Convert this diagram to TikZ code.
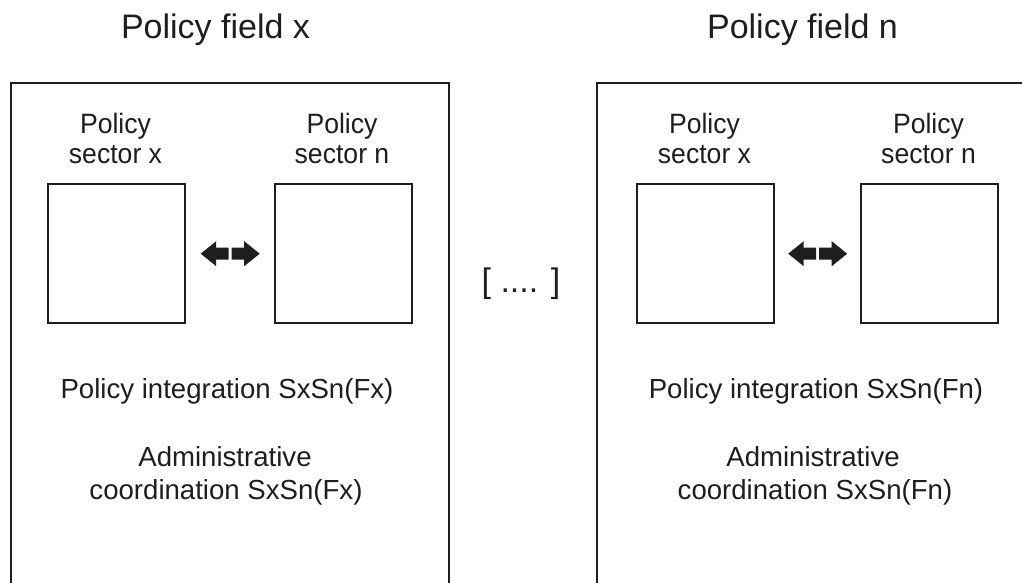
\documentclass[tikz,border=0pt]{standalone}
\usepackage{fontspec}
\usetikzlibrary{calc}
\setmainfont{Liberation Sans}
\newfontfamily\condf[FakeStretch=0.95]{Liberation Sans}
\definecolor{ink}{HTML}{1E1E1E}
\tikzset{
  frame/.style={draw=ink, line width=2pt},
  sectorbox/.style={draw=ink, line width=2.4pt, minimum width=137pt, minimum height=139pt, inner sep=0pt, anchor=north west},
  titletext/.style={text=ink, anchor=base, inner sep=0pt, font=\fontsize{34}{40}\selectfont},
  sectortext/.style={text=ink, anchor=base, inner sep=0pt, font=\condf\fontsize{28}{30}\selectfont},
  lowertext/.style={text=ink, anchor=base, inner sep=0pt, font=\fontsize{27.6}{32}\selectfont},
  arrowfill/.style={fill=ink, draw=none},
  pics/dblarrow/.style={code={
    \fill[arrowfill] (-29.5,0) -- (-14,-12.5) -- (-14,-6) -- (-1.5,-6) -- (-1.5,6) -- (-14,6) -- (-14,12.5) -- cycle;
    \fill[arrowfill] (29.5,0) -- (14,-12.5) -- (14,-6) -- (1.5,-6) -- (1.5,6) -- (14,6) -- (14,12.5) -- cycle;
  }}
}
\begin{document}
\begin{tikzpicture}[x=1pt,y=-1pt]
\useasboundingbox (0,0) rectangle (1022,583);
\clip (0,0) rectangle (1022,583);
\fill[white] (0,0) rectangle (1022,583);

% titles
\node[titletext] (tx) at (215.5,39) {Policy field x};
\node[titletext] (tn) at (802.5,39) {Policy field n};

% outer frames (open at bottom / right)
\draw[frame] (11,600) -- (11,83) -- (449,83) -- (449,600);
\draw[frame] (597,600) -- (597,83) -- (1040,83);

% left field
\node[sectorbox] (L1) at (47,183) {};
\node[sectorbox] (L2) at (274,183) {};
\node[sectortext] (L1a) at (115.5,133) {Policy};
\node[sectortext] (L1b) at (115.5,164) {sector x};
\node[sectortext] (L2a) at (342,133) {Policy};
\node[sectortext] (L2b) at (342,164) {sector n};
\coordinate (aL) at ($(L1.east)!0.5!(L2.west)$);
\pic at (aL) {dblarrow};
\node[lowertext] (Lp) at (227,398) {Policy integration SxSn(Fx)};
\node[lowertext] (La) at (225,466) {Administrative};
\node[lowertext] (Lc) at (226,499) {coordination SxSn(Fx)};

% dots
\node[titletext] (dots) at (521,292) {[ .... ]};

% right field
\node[sectorbox] (R1) at (636,183) {};
\node[sectorbox] (R2) at (860,183) {};
\node[sectortext] (R1a) at (704.5,133) {Policy};
\node[sectortext] (R1b) at (704.5,164) {sector x};
\node[sectortext] (R2a) at (928.5,133) {Policy};
\node[sectortext] (R2b) at (928.5,164) {sector n};
\coordinate (aR) at ($(R1.east)!0.5!(R2.west)$);
\pic at (aR) {dblarrow};
\node[lowertext] (Rp) at (816,398) {Policy integration SxSn(Fn)};
\node[lowertext] (Ra) at (813,466) {Administrative};
\node[lowertext] (Rc) at (815,499) {coordination SxSn(Fn)};
\end{tikzpicture}
\end{document}
